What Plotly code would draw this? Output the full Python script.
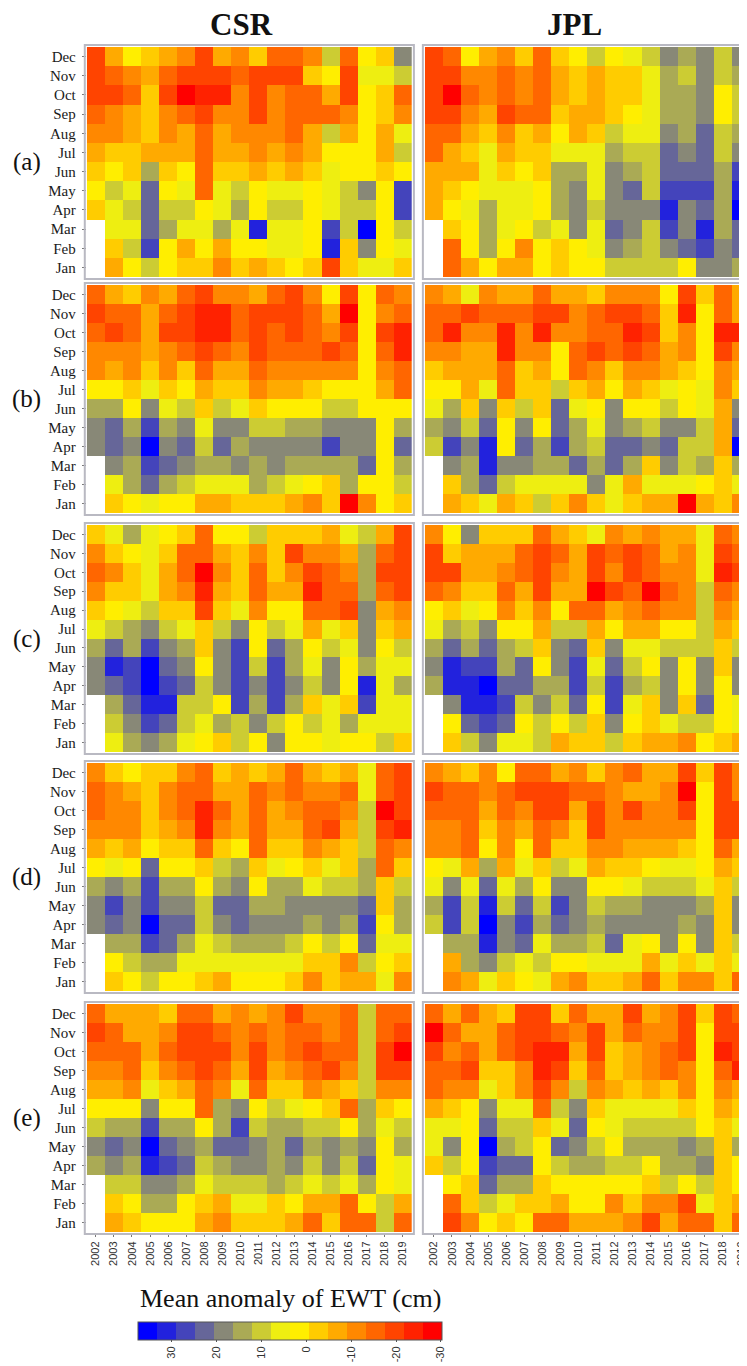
import plotly.graph_objects as go

N = None
years = list(range(2002, 2020))
months = ["Dec", "Nov", "Oct", "Sep", "Aug", "Jul", "Jun", "May", "Apr", "Mar", "Feb", "Jan"]
panel_labels = ["(a)", "(b)", "(c)", "(d)", "(e)"]
column_titles = ["CSR", "JPL"]

# Mean anomaly of EWT (cm); rows Dec -> Jan, columns 2002 -> 2019
csr_a = [
    [-19, -7, 2, -3, -7, -11, -19, -7, -11, -3, -15, -15, -11, 10, -15, 2, -3, 18],
    [-19, -15, -11, -7, -15, -19, -21, -19, -15, -19, -19, -19, -3, 2, -21, 6, 6, 10],
    [-19, -19, -15, -3, -19, -27, -23, -23, -11, -19, -11, -15, -15, -7, -19, 2, -3, -15],
    [-15, -11, -7, -3, -11, -15, -19, -11, -11, -19, -11, -15, -15, -15, -11, 2, -3, -11],
    [-11, -11, -7, -3, -11, -7, -15, -7, -11, -11, -11, -15, -7, 10, -7, 2, -7, 6],
    [-7, -3, -3, -7, -7, -7, -15, -7, -7, -11, -7, -11, -7, 2, 2, 2, -7, 10],
    [-3, 2, -3, 14, -3, 2, -15, -3, -3, -7, -3, -7, -3, 6, 2, 2, -3, 2],
    [2, 10, 6, 23, 2, 6, -15, 6, 10, 2, 6, 6, 2, 6, 10, 18, 2, 29],
    [-3, 6, 10, 23, 10, 10, 2, 6, 14, 2, 10, 10, 2, 6, 10, 10, 2, 29],
    [N, 6, 6, 23, 14, 6, 6, 14, 6, 31, 6, 6, 2, 27, 10, 35, 2, 10],
    [N, -3, 10, 29, 2, -7, 2, -7, 2, 2, 6, 6, 2, 31, -3, 18, 2, 6],
    [N, -7, 2, 10, 2, -3, -3, -11, -3, -7, -3, 2, -3, -19, -3, 6, 6, -3],
]
jpl_a = [
    [-21, -15, 2, -7, -11, -3, -15, -3, 2, 10, 2, 6, 10, 18, 14, 18, 10, 18],
    [-21, -19, -11, -11, -15, -11, -15, -7, -3, -7, -3, -3, 6, 14, 10, 18, 10, 14],
    [-21, -27, -15, -11, -15, -11, -15, -7, -3, -7, -3, -3, 6, 14, 14, 18, 2, 10],
    [-21, -19, -11, -7, -19, -15, -15, -3, -7, -7, -3, 2, 6, 14, 14, 18, 2, 10],
    [-15, -15, -7, -3, -11, -3, -7, 2, -7, -3, 10, 6, 6, 18, 14, 23, 10, 14],
    [-15, -7, -3, 6, -7, -3, -3, 6, 6, 6, 14, 10, 10, 23, 18, 23, 10, 18],
    [-7, -7, -7, 6, -3, 2, -3, 14, 14, 6, 18, 14, 10, 23, 23, 23, 14, 29],
    [-7, -3, 2, 6, 6, 6, 2, 14, 18, 6, 18, 23, 10, 27, 27, 27, 14, 31],
    [-7, 2, 6, 14, 6, 6, 2, 14, 18, 10, 18, 18, 18, 31, 18, 23, 14, 35],
    [N, -3, 2, 14, 6, 2, 10, 6, 18, 6, 23, 18, 10, 27, 18, 31, 14, 23],
    [N, -15, 2, 14, 2, -11, 2, -3, 2, 6, 18, 14, 10, 18, 23, 29, 18, 23],
    [N, -15, -7, 2, -7, -7, 2, -3, 2, 2, 10, 10, 10, 10, 2, 18, 18, 14],
]
csr_b = [
    [-15, -7, -3, -11, -7, -15, -19, -11, -11, -7, -15, -19, -11, 2, -21, 2, -15, -11],
    [-19, -15, -15, -7, -15, -19, -23, -23, -15, -19, -19, -19, -15, -7, -27, 2, -11, -15],
    [-15, -19, -15, -7, -19, -19, -23, -23, -15, -19, -15, -19, -15, -11, -19, 2, -19, -23],
    [-11, -11, -11, -7, -11, -15, -19, -15, -11, -19, -15, -15, -15, -19, -15, 2, -15, -23],
    [-11, -7, -11, -3, -11, -3, -15, -7, -7, -15, -11, -11, -11, -11, -11, 2, -11, -15],
    [2, 2, -3, 6, -3, 2, -7, -3, -3, -11, -7, -7, -3, 2, 2, 2, -7, -15],
    [14, 14, 2, 18, 6, 10, -3, 10, 6, -3, 2, 2, 2, 10, 10, 2, 2, 2],
    [18, 23, 14, 29, 14, 18, 6, 18, 18, 10, 10, 14, 14, 18, 18, 18, 2, 14],
    [18, 23, 18, 35, 18, 23, 10, 23, 14, 18, 18, 18, 18, 29, 18, 18, 2, 23],
    [N, 18, 14, 29, 23, 18, 14, 14, 18, 14, 18, 14, 14, 14, 14, 23, 2, 14],
    [N, 6, 14, 23, 14, 10, 6, 6, 6, 14, 10, 6, 2, -3, 14, 2, 2, 10],
    [N, -3, 2, 6, 2, 2, -7, -7, -3, -3, -3, -7, -11, -3, -27, -11, 2, -3],
]
jpl_b = [
    [-11, -7, 6, -11, -7, -7, -15, -7, -7, -3, -11, -11, -11, 2, -19, -3, -15, -7],
    [-15, -15, -19, -15, -15, -15, -19, -19, -11, -15, -19, -19, -15, -3, -23, 2, -15, -7],
    [-15, -23, -11, -11, -23, -11, -23, -11, -11, -15, -15, -23, -19, -3, -11, 2, -23, -23],
    [-11, -11, -7, -7, -23, -11, -11, 2, -15, -19, -15, -19, -15, -7, -11, 2, -19, -11],
    [-3, -7, -7, -7, -15, -3, -7, 2, -15, -11, -3, -11, -11, -7, -3, 2, -11, -7],
    [2, 2, -7, 6, -15, -3, -3, 10, -3, -7, 2, -7, -3, 6, 2, 6, -11, -3],
    [6, 14, -3, 18, -3, 10, -3, 23, 6, 2, 18, 2, 2, 10, 2, 6, -7, 18],
    [14, 18, 10, 23, 2, 18, 2, 23, 14, 6, 18, 14, 10, 18, 18, 10, -7, 23],
    [10, 29, 18, 31, 2, 23, 14, 29, 14, 10, 23, 23, 18, 23, 10, 10, -7, 35],
    [N, 18, 14, 31, 18, 18, 14, 14, 23, 14, 23, 14, -3, 18, 10, 14, -3, 14],
    [N, -3, 14, 23, 10, 6, 6, 6, 6, 18, 6, -7, 6, 6, 6, 2, -3, 6],
    [N, -7, -3, 6, -7, -3, 10, -3, -11, -3, 6, -3, -7, -7, -27, -7, -3, -11],
]
csr_c = [
    [-3, 6, 14, 6, 2, -3, -15, 2, 2, 10, -3, -3, -3, -7, 6, 10, -7, -21],
    [-11, -3, 2, 6, -3, -15, -15, -7, -3, -11, -3, -19, -11, -11, -7, 14, -15, -21],
    [-15, -11, -3, 6, -7, -15, -27, -11, -3, -15, -3, -11, -19, -15, -11, 14, -19, -19],
    [-11, -3, -3, 6, -7, -11, -23, -7, -3, -15, -7, -7, -23, -15, -15, 14, -15, -19],
    [-3, 2, 6, 10, -3, -3, -19, -3, 6, -11, 2, 2, -15, -15, -19, 18, -7, -11],
    [6, 10, 14, 18, 10, 6, -3, 10, 18, 2, 10, 6, -7, 6, -3, 18, -3, -7],
    [14, 23, 14, 29, 18, 14, -3, 18, 29, 2, 23, 14, 2, 10, 6, 18, 2, 10],
    [18, 31, 27, 35, 23, 18, 2, 18, 29, 10, 29, 14, 6, 18, 2, 14, 6, 6],
    [18, 23, 29, 35, 27, 23, 10, 18, 29, 18, 29, 18, 10, 18, 2, 31, 6, 14],
    [N, 14, 23, 31, 31, 10, 10, 2, 29, 14, 29, 14, -3, 6, -3, 27, 6, 6],
    [N, 10, 18, 29, 23, 10, 6, 14, 10, 18, 10, 2, 10, 6, 14, 6, 6, 6],
    [N, 6, 14, 18, 14, 6, 2, -3, 10, 2, 18, 2, 2, 6, 2, 2, 10, -3],
]
jpl_c = [
    [-11, 2, 18, -3, -3, -3, -15, -7, -3, 6, -11, -7, -11, -7, -7, 6, -15, -11],
    [-19, -3, -7, -7, -7, -15, -19, -15, -7, -19, -15, -21, -15, -7, -11, 6, -19, -15],
    [-19, -19, -7, -7, -11, -15, -21, -11, -7, -21, -11, -19, -15, -11, -11, 6, -23, -21],
    [-15, -11, -3, -3, -15, -7, -19, -7, -7, -27, -19, -15, -27, -15, -11, 10, -15, -11],
    [2, -3, 6, 2, -11, -3, -11, 2, -15, -15, -7, -11, -15, -11, -11, 10, -11, -7],
    [6, 14, 10, 18, 2, 2, -7, 10, 10, -7, 2, -7, -7, 2, 2, 10, -7, -3],
    [14, 23, 14, 23, 14, 10, -3, 18, 23, -3, 18, 6, 6, 10, 10, 10, -3, 10],
    [18, 31, 27, 27, 14, 23, 2, 18, 29, 6, 23, 10, 2, 18, 2, 18, -3, 18],
    [14, 31, 31, 35, 23, 23, 14, 14, 29, 10, 29, 14, 10, 18, 2, 18, 2, 18],
    [N, 18, 31, 31, 29, 10, 18, 10, 23, 2, 29, 6, -3, 18, -3, 23, 2, 6],
    [N, 2, 23, 29, 23, 2, 10, 2, 10, -3, 18, 2, -3, 6, 10, 10, 2, 6],
    [N, -3, 10, 18, 6, 6, 10, -7, -3, -3, 10, -3, -7, -7, -11, 2, -3, -7],
]
csr_d = [
    [-11, -3, 2, -3, -3, -11, -15, -3, -7, -3, -7, -15, -7, -3, -7, 6, -15, -19],
    [-15, -11, -7, -3, -11, -15, -15, -7, -7, -15, -11, -15, -11, -11, -15, 6, -15, -19],
    [-15, -11, -11, -3, -11, -15, -23, -15, -7, -15, -7, -11, -15, -15, -11, 10, -28, -19],
    [-11, -11, -11, -3, -7, -11, -23, -11, -7, -15, -7, -7, -15, -19, -7, 10, -19, -23],
    [-7, -3, -7, 2, -3, -3, -15, -3, 2, -15, -3, -3, -11, -7, -3, 10, -15, -11],
    [2, 6, 2, 23, 2, 2, -3, 10, 14, -3, 6, 2, -3, 6, -3, 14, -15, -3],
    [14, 18, 14, 29, 14, 14, 2, 14, 18, 2, 14, 14, 6, 10, 10, 14, -3, 10],
    [18, 29, 18, 29, 18, 18, 10, 23, 23, 14, 14, 18, 18, 18, 18, 23, -3, 14],
    [18, 23, 18, 35, 23, 23, 10, 18, 23, 18, 18, 18, 14, 18, 14, 29, 2, 14],
    [N, 14, 14, 29, 23, 14, 6, 10, 14, 14, 14, 10, 2, 10, 2, 23, 6, 6],
    [N, 2, 10, 14, 14, 6, 6, 6, 6, 6, 6, 6, -3, -3, -11, 10, 2, -3],
    [N, -3, 2, 10, 2, 2, -3, -7, 2, 2, 2, -3, -11, -3, -7, -7, 6, -11],
]
jpl_d = [
    [-11, -7, -3, -11, 2, -15, -15, -7, -11, -3, -11, -15, -7, -7, -21, -3, -19, -11],
    [-19, -15, -15, -11, -15, -19, -19, -19, -15, -15, -11, -7, -7, -11, -27, 2, -19, -11],
    [-15, -15, -15, -7, -15, -11, -19, -19, -7, -19, -11, -19, -11, -11, -19, 2, -21, -19],
    [-11, -11, -15, -3, -11, -7, -15, -11, -3, -19, -11, -11, -11, -11, -11, 2, -19, -19],
    [-11, -11, -15, 2, -11, 2, -15, -3, -3, -11, -11, -7, -7, -7, -3, 2, -15, -7],
    [2, 6, -7, 14, -7, 6, -3, 10, 6, -7, -3, -3, 2, 6, 6, 2, -7, -3],
    [6, 18, 6, 23, 6, 14, 2, 18, 18, 2, 2, 6, 10, 10, 10, 6, -3, 10],
    [14, 29, 10, 31, 10, 23, 10, 29, 18, 10, 14, 14, 18, 18, 18, 14, -3, 18],
    [10, 29, 10, 35, 18, 29, 14, 23, 18, 14, 18, 18, 18, 18, 14, 18, -3, 18],
    [N, 14, 14, 31, 18, 23, 6, 14, 14, 10, 23, 6, 2, 18, 2, 18, -3, 10],
    [N, -7, 14, 18, 10, 6, 10, 2, 2, 6, 6, 6, -7, 6, -3, 6, -3, 6],
    [N, -11, -7, 6, -3, 2, 6, -7, -11, -3, -3, -7, -15, -3, -11, -11, -3, -15],
]
csr_e = [
    [-15, -7, -7, -7, -3, -15, -15, -7, -11, -7, -11, -21, -11, -11, -15, 10, -15, -15],
    [-19, -15, -7, -7, -11, -19, -19, -15, -11, -15, -11, -15, -15, -11, -15, 10, -15, -21],
    [-15, -15, -15, -7, -15, -19, -21, -19, -11, -19, -11, -15, -19, -15, -15, 10, -21, -27],
    [-11, -11, -15, -3, -11, -15, -21, -15, -7, -19, -7, -11, -15, -19, -11, 10, -19, -19],
    [-7, -7, -11, 6, -3, -7, -15, -11, 6, -15, -3, -3, -11, -7, -3, 10, -11, -11],
    [2, 2, 2, 18, 2, 2, -15, 14, 18, 2, 10, 6, 2, -3, -15, 14, -3, 2],
    [10, 14, 14, 29, 14, 14, 2, 14, 29, 10, 14, 14, 10, 10, 2, 14, 6, 10],
    [18, 23, 18, 35, 23, 18, 14, 23, 23, 18, 14, 23, 14, 18, 14, 18, 2, 14],
    [14, 18, 14, 31, 29, 23, 10, 14, 18, 18, 14, 18, 10, 18, 10, 23, 2, 6],
    [N, 10, 10, 18, 18, 14, 6, 10, 10, 10, 14, 10, 6, 10, 6, 14, 2, 6],
    [N, -3, 2, 14, 14, 2, -3, -7, 6, 6, -3, 2, -7, -7, -15, 2, 10, -7],
    [N, -7, -3, 2, 2, 2, -7, -11, -3, -3, -3, -7, -15, -3, -15, -15, 10, -15],
]
jpl_e = [
    [-15, -7, -15, -7, -3, -19, -21, -3, -15, -7, -7, -21, -7, -11, -21, -3, -21, -15],
    [-27, -15, -7, -7, -15, -19, -21, -15, -11, -19, -7, -15, -11, -11, -21, 2, -19, -21],
    [-19, -11, -15, -7, -15, -19, -23, -23, -7, -19, -3, -7, -11, -15, -19, 2, -23, -21],
    [-15, -15, -19, -3, -3, -11, -23, -19, -3, -15, -3, -7, -11, -15, -11, 2, -15, -23],
    [-15, -11, -11, 6, -3, -11, -19, -11, 10, -11, -7, -3, -7, -3, -11, 2, -11, -7],
    [-7, -3, 2, 18, 6, 6, -15, 10, 18, -3, 6, 6, 6, 6, -3, 2, -7, -3],
    [6, 6, 2, 23, 10, 10, -3, 6, 23, 2, 6, 10, 10, 10, 10, 2, -3, 6],
    [6, 18, 2, 35, 14, 10, 2, 23, 18, 10, 2, 14, 14, 14, 18, 14, -3, 14],
    [-3, 10, 2, 27, 23, 23, 2, 10, 14, 14, 10, 10, 2, 14, 14, 18, -3, 2],
    [N, 2, -3, 23, 14, 14, -3, 2, 2, 2, 2, 2, -3, 10, 2, 10, -3, 2],
    [N, -15, -3, 10, 6, -3, -3, -7, 2, 2, -11, -3, -11, -11, -19, 6, -3, -7],
    [N, -19, -11, 2, -3, 2, -15, -15, -7, -7, -7, -11, -19, -7, -15, -15, -3, -15],
]

panels = [[csr_a, jpl_a], [csr_b, jpl_b], [csr_c, jpl_c], [csr_d, jpl_d], [csr_e, jpl_e]]

# colour scale: 16 classes, from +37.6 (blue, left) to -30.2 (red, right)
bin_colors = ["#0000ff", "#2222dd", "#4444bb", "#666699", "#888877", "#aaaa55",
              "#cccc33", "#eeee11", "#ffee00", "#ffcc00", "#ffaa00", "#ff8800",
              "#ff6600", "#ff4400", "#ff2200", "#ff0000"]
scale_left, scale_right = 37.6, -30.2
cbar_ticks = [30, 20, 10, 0, -10, -20, -30]

# ---------------- layout helpers ----------------
# the page body has an 8 px margin, so the figure is drawn 8 px in from the window corner
OFF = 8
W, H = 747 - OFF, 1366 - OFF
def px(x):
    return (x - OFF) / W
def py(y):
    return 1 - (y - OFF) / H

col_px = [(87, 413), (426, 747)]
row_px = [(47, 277), (285, 513), (525, 752), (763, 991), (1004, 1232)]
col_w = (col_px[0][1] - col_px[0][0]) / len(years)

ncl = len(bin_colors)
colorscale = []
for k, c in enumerate(bin_colors):
    colorscale.append([k / ncl, c])
    colorscale.append([(k + 1) / ncl, c])

fig = go.Figure()
layout = {}
shapes = []
annotations = []

for i, row in enumerate(panels):
    for j, z in enumerate(row):
        n = i * 2 + j + 1
        xa = "x" if n == 1 else f"x{n}"
        ya = "y" if n == 1 else f"y{n}"
        # plotted as the negated anomaly so that blue (+) is on the left of the colour bar
        zz = [[(None if v is None else -v) for v in r] for r in z]
        fig.add_trace(go.Heatmap(
            x=years, y=months, z=zz, coloraxis="coloraxis",
            xaxis=xa, yaxis=ya, hoverongaps=False,
            customdata=z, hovertemplate="%{y} %{x}: %{customdata} cm<extra></extra>"))
        x0, x1 = col_px[j]
        y0, y1 = row_px[i]
        xr_end = years[0] - 0.5 + (x1 - x0) / col_w
        xkey = "xaxis" if n == 1 else f"xaxis{n}"
        ykey = "yaxis" if n == 1 else f"yaxis{n}"
        bottom = (i == len(panels) - 1)
        layout[xkey] = dict(
            domain=[px(x0), px(x1)], anchor=ya, range=[years[0] - 0.5, xr_end],
            showgrid=False, zeroline=False, showline=False,
            tickmode="array", tickvals=years, ticktext=[str(y) for y in years],
            showticklabels=bottom, ticks="outside" if bottom else "",
            ticklen=4, tickcolor="#777", tickangle=-90, ticklabeloverflow="allow",
            tickfont=dict(family="Liberation Sans", size=11, color="#333"))
        layout[ykey] = dict(
            domain=[py(y1), py(y0)], anchor=xa, type="category",
            range=[len(months) - 0.5, -0.5],
            showgrid=False, zeroline=False, showline=False,
            showticklabels=(j == 0), ticks="outside" if j == 0 else "",
            ticklen=4, tickcolor="#777", ticklabelstandoff=3,
            tickfont=dict(family="Liberation Serif", size=15, color="#1a1a1a"))
        # panel frame
        shapes.append(dict(type="rect", xref="paper", yref="paper",
                           x0=px(x0 - 2), x1=px(x1 + 2 if j == 0 else x1 + 12),
                           y0=py(y1 + 2), y1=py(y0 - 2),
                           line=dict(color="#b9b9c2", width=2), layer="above"))
    yc = (row_px[i][0] + row_px[i][1]) / 2
    annotations.append(dict(text=panel_labels[i], x=px(27), y=py(yc), xref="paper", yref="paper",
                            showarrow=False, xanchor="center", yanchor="middle",
                            font=dict(family="Liberation Serif", size=25, color="#111")))

title_x = [242, 576]
for j, t in enumerate(column_titles):
    annotations.append(dict(text=f"<b>{t}</b>", x=px(title_x[j]), y=py(25), xref="paper", yref="paper",
                            showarrow=False, xanchor="center", yanchor="middle",
                            font=dict(family="Liberation Serif", size=31, color="#111")))

annotations.append(dict(text="Mean anomaly of EWT (cm)", x=px(291), y=py(1298), xref="paper", yref="paper",
                        showarrow=False, xanchor="center", yanchor="middle",
                        font=dict(family="Liberation Serif", size=26, color="#111")))

cb_x0, cb_x1 = 138, 443
fig.update_layout(
    width=W, height=H,
    margin=dict(l=0, r=0, t=0, b=0),
    paper_bgcolor="white", plot_bgcolor="white",
    showlegend=False,
    shapes=shapes, annotations=annotations,
    coloraxis=dict(
        colorscale=colorscale, cmin=-scale_left, cmax=-scale_right,
        colorbar=dict(
            orientation="h", x=px((cb_x0 + cb_x1) / 2), xanchor="center",
            y=py(1322), yanchor="top", len=(cb_x1 - cb_x0) / W, lenmode="fraction",
            thickness=18, thicknessmode="pixels", xpad=0, ypad=0,
            tickmode="array", tickvals=[-t for t in cbar_ticks], ticktext=[str(t) for t in cbar_ticks],
            tickangle=-90, ticks="outside", ticklen=2, tickcolor="#555",
            tickfont=dict(family="Liberation Sans", size=11, color="#333"),
            outlinewidth=1, outlinecolor="#555")),
    **layout)

fig.write_html("out.html")
